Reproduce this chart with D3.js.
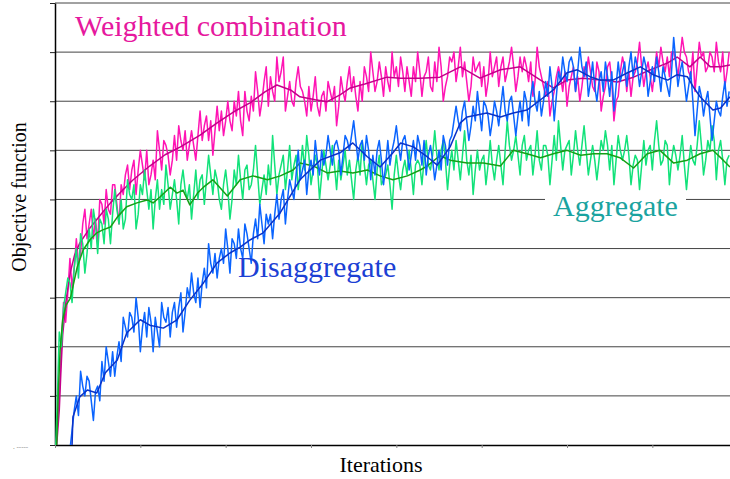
<!DOCTYPE html>
<html>
<head>
<meta charset="utf-8">
<script src="https://cdn.jsdelivr.net/npm/d3@7"></script>
<style>
  body { margin: 0; background: #fff; }
  svg { display: block; }
</style>
</head>
<body>
<svg id="chart" width="730" height="479"></svg>
<script>
// iterations of the raw samples (one every 2.5 iterations)
let rawIter = d3.range(0, 791, 2.5);

// raw objective values
let weightedRaw = [
  -3, 3, 10, 20, 29, 25, 31, 38, 32, 36, 42, 37, 39, 45, 48, 42, 45, 48, 42, 46,
  41, 50, 49, 45, 52, 48, 47, 53, 53, 49, 45, 53, 51, 55, 57, 52, 56, 58, 51, 56,
  60, 57, 54, 60, 53, 55, 58, 54, 64, 60, 56, 62, 61, 59, 55, 58, 63, 58, 65, 62,
  60, 64, 58, 61, 64, 61, 58, 63, 68, 62, 65, 67, 62, 66, 59, 64, 69, 64, 68, 63,
  66, 70, 66, 64, 70, 67, 72, 66, 63, 72, 68, 66, 71, 68, 76, 72, 67, 70, 74, 77,
  69, 75, 72, 70, 79, 74, 76, 79, 68, 71, 74, 70, 69, 74, 77, 73, 72, 70, 67, 73,
  68, 71, 75, 69, 67, 71, 72, 68, 74, 72, 70, 73, 65, 69, 75, 72, 70, 74, 77, 72,
  75, 71, 68, 74, 70, 77, 75, 72, 80, 76, 72, 74, 78, 75, 71, 77, 74, 72, 80, 75,
  77, 73, 79, 76, 72, 77, 74, 71, 77, 74, 80, 76, 71, 75, 76, 79, 73, 72, 78, 74,
  81, 77, 70, 73, 75, 79, 78, 80, 74, 77, 81, 75, 78, 74, 70, 73, 79, 76, 77, 78,
  73, 77, 71, 74, 80, 75, 77, 79, 73, 77, 79, 74, 76, 78, 81, 77, 72, 75, 79, 76,
  79, 77, 74, 78, 71, 74, 81, 77, 75, 73, 71, 74, 67, 70, 72, 75, 77, 75, 72, 76,
  69, 73, 75, 77, 72, 75, 70, 73, 77, 75, 79, 76, 73, 72, 78, 76, 68, 71, 73, 77,
  78, 74, 66, 70, 71, 76, 79, 77, 72, 76, 71, 75, 76, 78, 82, 77, 73, 76, 78, 75,
  72, 76, 80, 77, 81, 78, 76, 79, 75, 80, 80, 78, 75, 79, 83, 80, 79, 76, 75, 80,
  72, 77, 82, 79, 80, 76, 77, 80, 79, 76, 82, 78, 76, 80, 73, 76, 80
];

let disaggRaw = [
  -10, -9, -8, -7, -6, -4, -3, -1, 3, 7, 10, 6, 15, 12, 10, 14, 13, 9, 5, 11,
  12, 9, 17, 13, 20, 17, 14, 19, 14, 18, 21, 17, 26, 24, 22, 27, 26, 23, 30, 26,
  19, 24, 27, 22, 28, 25, 19, 26, 23, 20, 29, 26, 25, 28, 22, 27, 29, 24, 28, 31,
  23, 27, 32, 30, 35, 31, 29, 34, 28, 33, 36, 32, 41, 37, 35, 39, 34, 38, 40, 37,
  44, 40, 35, 42, 41, 38, 44, 40, 38, 45, 43, 40, 37, 43, 46, 42, 49, 45, 41, 47,
  45, 47, 42, 47, 51, 46, 50, 52, 45, 50, 54, 52, 50, 55, 60, 54, 56, 58, 51, 56,
  58, 55, 62, 58, 55, 60, 57, 59, 63, 60, 57, 61, 62, 60, 55, 59, 63, 62, 60, 63,
  66, 62, 58, 61, 62, 58, 63, 60, 54, 59, 55, 60, 62, 58, 53, 57, 62, 57, 60, 62,
  65, 61, 58, 62, 63, 60, 56, 59, 62, 58, 63, 61, 57, 62, 55, 59, 61, 58, 54, 57,
  60, 56, 63, 61, 57, 62, 63, 66, 69, 66, 64, 68, 70, 66, 62, 65, 69, 66, 72, 68,
  64, 70, 69, 67, 63, 66, 70, 68, 65, 69, 73, 68, 66, 70, 71, 67, 63, 67, 70, 66,
  72, 70, 65, 71, 74, 70, 68, 72, 67, 70, 74, 71, 77, 73, 66, 71, 76, 74, 79, 76,
  74, 78, 79, 77, 72, 76, 81, 77, 75, 78, 71, 74, 78, 73, 70, 74, 76, 72, 78, 75,
  71, 76, 68, 73, 78, 74, 76, 78, 73, 77, 80, 75, 79, 77, 73, 76, 79, 77, 71, 74,
  77, 74, 79, 76, 72, 77, 75, 73, 71, 76, 83, 78, 73, 76, 78, 74, 70, 73, 76, 70,
  63, 68, 73, 71, 67, 70, 72, 67, 62, 66, 70, 68, 67, 71, 74, 69, 72
];

let aggRaw = [
  -5, 8, 23, 20, 28, 31, 34, 33, 29, 36, 40, 34, 43, 41, 35, 39, 44, 40, 48, 45,
  39, 46, 45, 41, 48, 46, 41, 47, 52, 48, 45, 50, 44, 46, 54, 51, 50, 53, 44, 47,
  53, 51, 56, 52, 48, 52, 44, 50, 54, 48, 52, 49, 57, 53, 48, 51, 54, 50, 45, 53,
  56, 52, 50, 53, 46, 51, 56, 50, 54, 55, 49, 54, 59, 55, 51, 56, 54, 50, 48, 53,
  56, 52, 46, 50, 56, 53, 59, 54, 50, 56, 57, 52, 53, 56, 61, 55, 49, 52, 55, 51,
  57, 53, 63, 57, 51, 55, 57, 59, 52, 56, 61, 54, 57, 59, 52, 56, 61, 56, 63, 59,
  53, 56, 59, 57, 50, 55, 60, 57, 54, 57, 61, 57, 52, 58, 54, 57, 60, 55, 58, 54,
  50, 56, 59, 55, 62, 57, 53, 57, 58, 54, 50, 56, 59, 53, 54, 55, 57, 53, 48, 55,
  59, 55, 52, 56, 58, 55, 60, 56, 51, 57, 58, 57, 53, 58, 62, 57, 56, 59, 64, 59,
  56, 60, 62, 58, 52, 57, 60, 56, 62, 58, 54, 59, 64, 58, 55, 59, 51, 56, 60, 56,
  58, 59, 53, 57, 62, 57, 54, 58, 61, 57, 53, 60, 66, 61, 58, 60, 63, 59, 55, 61,
  63, 58, 60, 61, 55, 59, 64, 58, 56, 61, 61, 59, 53, 58, 63, 58, 66, 61, 56, 60,
  61, 62, 55, 59, 64, 60, 57, 61, 65, 60, 55, 58, 61, 58, 54, 58, 62, 60, 64, 61,
  56, 61, 53, 58, 63, 60, 58, 60, 63, 59, 53, 57, 59, 58, 52, 57, 62, 57, 60, 61,
  56, 62, 66, 61, 57, 58, 62, 61, 53, 58, 61, 59, 56, 59, 63, 57, 52, 57, 61, 58,
  57, 61, 66, 61, 55, 58, 62, 60, 65, 62, 54, 60, 62, 58, 53, 58, 59
];

// moving averages, [iteration, value]
let weightedSmooth = [
  [2, 0], [5, 7.1], [7, 15.3], [9, 22.4], [13, 29.5], [18, 35.2], [23, 38.7], [29, 41.1],
  [41, 44.2], [53, 46.8], [65, 49.3], [76, 51.3], [91, 53.9], [111, 56.8], [129, 59.1],
  [147, 60.7], [170, 63.1], [190, 65.6], [209, 67.8], [229, 69.7], [246, 71.9], [260, 73.3],
  [276, 72.3], [287, 70.9], [305, 70.3], [319, 69.9], [334, 71.3], [346, 72.7], [363, 73.5],
  [389, 74.9], [405, 74.7], [428, 74.7], [451, 74.9], [475, 77.0], [498, 74.7], [522, 76.4],
  [545, 77.0], [569, 74.3], [584, 72.7], [600, 74.3], [619, 74.7], [639, 74.3], [659, 73.9],
  [678, 74.9], [698, 76.4], [718, 77.8], [729, 79.0], [744, 77.0], [756, 79.0], [768, 77.0],
  [780, 77.0], [791, 77.4]
];

let disaggSmooth = [
  [20, 0], [21, 5.7], [29, 9.8], [38, 11.2], [49, 10.6], [59, 14.7], [73, 17.3], [84, 22.8],
  [100, 25.5], [111, 24.4], [127, 23.8], [143, 25.5], [158, 29.5], [174, 33.0], [190, 37.1],
  [205, 39.1], [217, 40.3], [229, 41.8], [244, 43.2], [264, 47.3], [287, 54.0], [311, 58.0],
  [334, 59.5], [349, 61.5], [366, 58.7], [381, 56.6], [396, 59.5], [405, 61.5], [420, 60.7],
  [436, 58.7], [448, 57.0], [463, 60.7], [475, 65.6], [483, 66.8], [506, 67.6], [522, 66.8],
  [537, 67.6], [553, 68.2], [569, 70.3], [584, 72.3], [600, 75.8], [612, 76.4], [627, 75.0],
  [639, 74.3], [654, 74.3], [671, 75.8], [686, 77.0], [701, 75.4], [718, 74.3], [729, 75.4],
  [741, 75.0], [748, 72.9], [756, 70.9], [771, 68.2], [780, 68.6], [791, 70.9]
];

let aggSmooth = [
  [2, 0], [4, 11.2], [6, 19.3], [9, 25.5], [13, 28.5], [18, 29.9], [26, 36.2], [33, 39.7],
  [41, 41.8], [49, 43.2], [56, 43.8], [65, 44.4], [73, 46.4], [84, 48.5], [96, 49.3],
  [108, 49.9], [115, 49.3], [123, 50.5], [135, 52.5], [143, 51.3], [150, 51.9], [158, 48.9],
  [167, 51.3], [174, 52.5], [185, 54.0], [202, 50.7], [217, 54.0], [232, 54.8], [249, 54.0],
  [264, 54.8], [279, 56.0], [287, 57.4], [303, 56.8], [319, 55.4], [334, 55.8], [349, 55.4],
  [366, 56.0], [381, 54.8], [396, 54.0], [413, 54.8], [428, 56.0], [436, 56.8], [451, 58.9],
  [463, 58.0], [483, 57.4], [502, 57.4], [522, 56.8], [537, 60.0], [553, 59.3], [569, 58.5],
  [584, 59.3], [600, 60.0], [616, 59.0], [631, 59.3], [647, 59.3], [662, 58.5], [678, 56.4],
  [694, 59.3], [709, 60.0], [725, 57.4], [741, 58.0], [756, 59.3], [771, 60.0], [783, 58.0],
  [791, 56.6]
];

let yTicks = [0, 10, 20, 30, 40, 50, 60, 70, 80, 90];
let xTicks = [0, 100, 200, 300, 400, 500, 600, 700];

let serif = "'Liberation Serif'";

let svg = d3.select("#chart");
let x = d3.scaleLinear().domain([0, 791]).range([55, 730]);
let y = d3.scaleLinear().domain([0, 90]).range([445, 3]);

svg.append("clipPath").attr("id", "plotClip")
  .append("rect").attr("x", 55).attr("y", 0).attr("width", 675).attr("height", 445);

// grid
svg.append("g").selectAll("line").data(yTicks.slice(1)).join("line")
  .attr("x1", 55).attr("x2", 730)
  .attr("y1", d => y(d)).attr("y2", d => y(d))
  .attr("stroke", "#444").attr("stroke-width", 1);

// white box behind the "Aggregate" label
svg.append("rect").attr("x", 545).attr("y", 192).attr("width", 141).attr("height", 34).attr("fill", "#fff");

// axes
let yAxis = svg.append("g").attr("transform", "translate(55,0)")
  .call(d3.axisLeft(y).tickValues(yTicks).tickSize(5).tickSizeOuter(0).tickFormat(""));
yAxis.selectAll("line").attr("stroke", "#222");
yAxis.select(".domain").attr("stroke", "#000").attr("stroke-width", 1.5);

let xAxis = svg.append("g").attr("transform", "translate(0,445)")
  .call(d3.axisBottom(x).tickValues(xTicks).tickSize(3).tickSizeOuter(0).tickFormat(""));
xAxis.selectAll("line").attr("stroke", "#888");
xAxis.select(".domain").attr("stroke", "#000").attr("stroke-width", 1.5);

// lines
let rawLine = d3.line().x((d, i) => x(rawIter[i])).y(d => y(d));
let smoothLine = d3.line().x(d => x(d[0])).y(d => y(d[1]));

let plot = svg.append("g").attr("clip-path", "url(#plotClip)");

let series = [
  { raw: weightedRaw, smooth: weightedSmooth, rawColor: "#ff14b4", smoothColor: "#c4008a" },
  { raw: aggRaw, smooth: aggSmooth, rawColor: "#12e27a", smoothColor: "#16a016" },
  { raw: disaggRaw, smooth: disaggSmooth, rawColor: "#0a64ff", smoothColor: "#0a32c8" }
];

series.forEach(s => {
  plot.append("path").datum(s.raw)
    .attr("d", rawLine).attr("fill", "none")
    .attr("stroke", s.rawColor).attr("stroke-width", 1.5).attr("stroke-linejoin", "round");
  plot.append("path").datum(s.smooth)
    .attr("d", smoothLine).attr("fill", "none")
    .attr("stroke", s.smoothColor).attr("stroke-width", 1.5).attr("stroke-linejoin", "round");
});

// series labels
function label(txt, px, py, size, color) {
  return svg.append("text").attr("x", px).attr("y", py)
    .style("font-family", serif).style("font-size", size + "px")
    .attr("fill", color).text(txt);
}
label("Weighted combination", 75, 36, 30, "#e6189e");
label("Disaggregate", 238, 277, 30, "#1c40d4");
label("Aggregate", 553, 216, 30, "#1aa3a0");

// axis titles
label("Objective function", 0, 0, 20, "#000")
  .attr("x", null).attr("y", null)
  .attr("transform", "translate(26,197) rotate(-90)").attr("text-anchor", "middle");
label("Iterations", 381, 472, 22, "#000").attr("text-anchor", "middle");

// leftover tick label at the origin
label(". -----", 13, 449, 7, "#777");
</script>
</body>
</html>
